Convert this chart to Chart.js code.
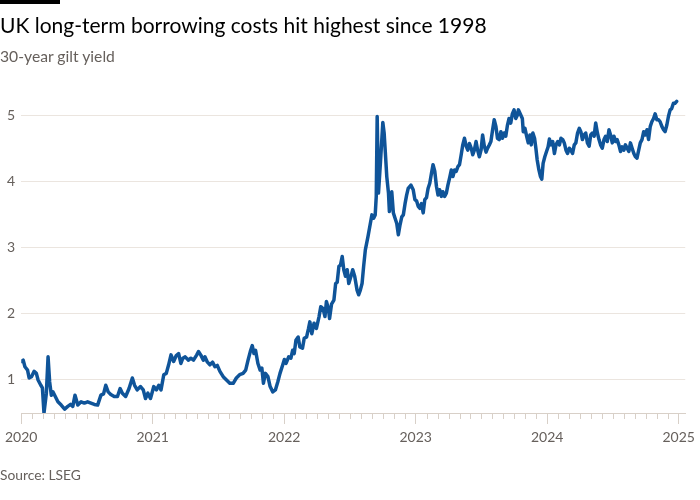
<!DOCTYPE html>
<html>
<head>
<meta charset="utf-8">
<script src="https://cdn.jsdelivr.net/npm/chart.js@4/dist/chart.umd.min.js"></script>
<style>
  html, body { margin: 0; padding: 0; background: #ffffff; }
  body { width: 700px; height: 500px; position: relative; overflow: hidden; font-family: Lato, "Noto Sans", sans-serif; }
  #bar { position: absolute; left: 0; top: 0; width: 60px; height: 4px; background: #000; }
  #title { position: absolute; left: 0; top: 12px; font-size: 21px; line-height: 26px; color: #000; white-space: nowrap; }
  #subtitle { position: absolute; left: 0; top: 46px; font-size: 15.7px; line-height: 20px; color: #66605c; white-space: nowrap; }
  #source { position: absolute; left: 0; top: 466px; font-size: 13.8px; line-height: 18px; color: #66605c; white-space: nowrap; }
  #c { position: absolute; left: 0; top: 0; }
</style>
</head>
<body>
<canvas id="c" width="700" height="500"></canvas>
<div id="bar"></div>
<div id="title">UK long-term borrowing costs hit highest since 1998</div>
<div id="subtitle">30-year gilt yield</div>
<div id="source">Source: LSEG</div>
<script>
// Decimal-year dates
const years = [
 2020.000,2020.015,2020.028,2020.048,2020.060,2020.078,2020.098,2020.115,2020.128,2020.149,
 2020.161,2020.173,2020.191,2020.204,2020.216,2020.229,2020.241,2020.259,2020.279,2020.304,
 2020.330,2020.354,2020.375,2020.392,2020.409,2020.430,2020.455,2020.480,2020.505,2020.530,
 2020.556,2020.581,2020.606,2020.626,2020.643,2020.661,2020.681,2020.707,2020.732,2020.752,
 2020.769,2020.794,2020.820,2020.845,2020.862,2020.882,2020.907,2020.928,2020.945,2020.963,
 2020.983,2021.008,2021.028,2021.046,2021.063,2021.084,2021.103,2021.121,2021.139,2021.159,
 2021.179,2021.197,2021.214,2021.229,2021.247,2021.272,2021.290,
 2021.310,2021.335,2021.348,2021.365,2021.385,2021.397,2021.416,2021.435,2021.455,2021.473,
 2021.491,2021.511,2021.536,2021.561,2021.586,2021.612,2021.636,2021.661,2021.687,2021.707,
 2021.725,2021.742,2021.757,2021.770,2021.782,2021.800,2021.817,2021.830,2021.842,2021.857,
 2021.876,2021.893,2021.913,2021.933,2021.951,2021.968,2021.989,2022.001,2022.014,2022.034,
 2022.051,2022.064,2022.076,2022.089,2022.106,2022.119,2022.139,2022.152,2022.170,2022.185,
 2022.195,2022.210,2022.227,2022.245,2022.265,2022.278,2022.295,2022.310,2022.321,2022.336,
 2022.345,2022.360,2022.378,2022.391,2022.403,2022.416,2022.428,2022.441,2022.453,2022.466,
 2022.479,2022.491,2022.509,2022.521,2022.536,2022.554,2022.566,2022.579,2022.592,2022.604,
 2022.617,2022.637,2022.655,2022.667,2022.680,2022.692,2022.700,2022.707,2022.717,2022.732,
 2022.750,2022.760,2022.768,2022.780,2022.793,2022.800,2022.818,2022.830,2022.843,2022.856,
 2022.868,2022.881,2022.894,2022.906,2022.919,2022.931,2022.943,2022.964,2022.981,2022.994,
 2023.007,2023.019,2023.032,2023.044,2023.057,2023.069,2023.082,2023.094,2023.107,2023.120,
 2023.132,2023.145,2023.158,2023.170,2023.182,2023.195,2023.207,2023.220,2023.233,2023.245,
 2023.258,2023.271,2023.283,2023.296,2023.308,2023.321,2023.333,2023.346,2023.358,2023.371,
 2023.384,2023.396,2023.409,2023.422,2023.434,2023.446,2023.459,2023.471,2023.484,2023.497,
 2023.509,2023.522,2023.535,2023.547,2023.560,2023.572,2023.585,2023.597,2023.610,2023.622,
 2023.635,2023.648,2023.660,2023.673,2023.685,2023.698,2023.710,2023.723,2023.735,2023.748,
 2023.761,2023.773,2023.781,2023.793,2023.811,2023.818,2023.831,2023.844,2023.856,2023.869,
 2023.879,2023.891,2023.904,2023.914,2023.924,2023.937,2023.949,2023.959,2023.969,2023.982,
 2023.995,2024.007,2024.017,2024.029,2024.042,2024.055,2024.067,2024.080,2024.093,2024.105,
 2024.118,2024.130,2024.143,2024.155,2024.168,2024.180,2024.193,2024.206,2024.218,2024.231,
 2024.244,2024.256,2024.268,2024.281,2024.293,2024.306,2024.319,2024.331,2024.344,2024.357,
 2024.369,2024.382,2024.394,2024.406,2024.419,2024.432,2024.444,2024.457,2024.470,2024.482,
 2024.495,2024.508,2024.520,2024.532,2024.545,2024.558,2024.570,2024.583,2024.595,2024.608,
 2024.621,2024.633,2024.646,2024.659,2024.671,2024.683,2024.696,2024.708,2024.721,2024.734,
 2024.746,2024.759,2024.771,2024.784,2024.796,2024.809,2024.821,2024.834,2024.847,2024.859,
 2024.872,2024.885,2024.897,2024.910,2024.922,2024.935,2024.947,2024.960,2024.972,2024.985
];
// 30-year gilt yield, %
const yields = [
 1.28,1.30,1.20,1.15,1.03,1.05,1.13,1.10,1.00,0.92,
 0.88,0.50,0.80,1.35,0.97,0.77,0.82,0.75,0.67,0.62,
 0.56,0.60,0.63,0.60,0.77,0.62,0.67,0.65,0.67,0.65,
 0.63,0.62,0.77,0.79,0.92,0.82,0.78,0.75,0.75,0.87,
 0.80,0.75,0.87,1.03,0.92,0.85,0.90,0.85,0.72,0.80,
 0.72,0.90,0.85,0.92,0.85,1.08,1.10,1.23,1.38,1.28,
 1.37,1.40,1.25,1.33,1.35,1.30,1.33,
 1.30,1.38,1.43,1.38,1.30,1.35,1.27,1.23,1.27,1.20,
 1.22,1.13,1.05,1.00,0.95,0.95,1.03,1.08,1.10,1.15,
 1.30,1.43,1.52,1.40,1.45,1.25,1.15,1.18,0.95,1.10,
 1.05,0.90,0.82,0.85,0.97,1.10,1.23,1.31,1.25,1.35,
 1.33,1.45,1.40,1.60,1.65,1.50,1.48,1.63,1.65,1.78,
 1.88,1.70,1.86,1.78,1.96,2.11,2.08,1.96,2.19,2.08,
 1.93,2.15,2.21,2.46,2.48,2.72,2.74,2.87,2.67,2.57,
 2.67,2.46,2.58,2.67,2.57,2.36,2.29,2.36,2.46,2.72,
 2.97,3.17,3.37,3.50,3.45,3.50,3.78,4.99,3.83,4.30,
 4.90,4.74,4.48,4.08,3.83,3.55,3.85,3.53,3.45,3.37,
 3.20,3.35,3.47,3.50,3.67,3.80,3.90,3.95,3.88,3.73,
 3.71,3.63,3.60,3.67,3.53,3.73,3.76,3.90,3.98,4.13,
 4.26,4.16,3.93,3.80,3.88,3.78,3.85,3.78,3.83,3.95,
 4.06,4.18,4.08,4.18,4.16,4.23,4.26,4.41,4.56,4.66,
 4.54,4.48,4.58,4.51,4.41,4.48,4.61,4.48,4.38,4.48,
 4.71,4.54,4.45,4.51,4.56,4.61,4.79,4.94,4.84,4.66,
 4.64,4.76,4.66,4.74,4.69,4.86,4.96,4.89,5.03,5.09,
 4.96,5.01,5.09,5.04,4.96,4.76,4.81,4.69,4.59,4.71,
 4.56,4.74,4.66,4.51,4.33,4.18,4.08,4.04,4.28,4.38,
 4.46,4.53,4.65,4.56,4.61,4.43,4.56,4.61,4.56,4.66,
 4.64,4.59,4.48,4.43,4.51,4.48,4.43,4.56,4.59,4.74,
 4.81,4.76,4.64,4.71,4.74,4.59,4.54,4.71,4.74,4.69,
 4.89,4.74,4.64,4.56,4.51,4.64,4.69,4.61,4.79,4.71,
 4.59,4.69,4.61,4.64,4.56,4.46,4.53,4.48,4.56,4.51,
 4.46,4.59,4.51,4.43,4.38,4.36,4.48,4.59,4.64,4.76,
 4.71,4.79,4.64,4.84,4.91,4.96,5.03,4.94,4.94,4.91,
 4.84,4.79,4.76,4.86,4.99,5.09,5.11,5.19,5.19,5.22
];
const yearTicks = [2020, 2021, 2022, 2023, 2024, 2025];
const yTicks = [1, 2, 3, 4, 5];

const points = years.map((x, i) => ({ x: x, y: yields[i] }));

const grey = '#66605c';
const axisCol = '#d8d0c8';

const minorTicks = {
  id: 'minorTicks',
  afterDraw(chart) {
    const xs = chart.scales.x;
    const ctx = chart.ctx;
    const bottom = chart.chartArea.bottom;
    ctx.save();
    ctx.strokeStyle = axisCol;
    ctx.lineWidth = 1;
    for (let y = 2020; y < 2025; y++) {
      for (let m = 1; m < 12; m++) {
        const px = Math.round(xs.getPixelForValue(y + m / 12)) + 0.5;
        ctx.beginPath();
        ctx.moveTo(px, bottom);
        ctx.lineTo(px, bottom + 6);
        ctx.stroke();
      }
    }
    ctx.restore();
  }
};

new Chart(document.getElementById('c'), {
  type: 'line',
  data: {
    datasets: [{
      data: points,
      borderColor: '#0f5499',
      borderWidth: 3.5,
      borderJoinStyle: 'round',
      borderCapStyle: 'round',
      pointRadius: 0,
      tension: 0,
      fill: false
    }]
  },
  options: {
    responsive: false,
    animation: false,
    devicePixelRatio: 1,
    layout: { padding: { top: 96, right: 12, left: 0, bottom: 0 } },
    plugins: { legend: { display: false }, tooltip: { enabled: false } },
    scales: {
      x: {
        type: 'linear',
        min: 2020,
        max: 2025.05,
        afterBuildTicks: (s) => { s.ticks = yearTicks.map(v => ({ value: v })); },
        afterFit: (s) => { s.height = 87; },
        grid: { display: true, drawOnChartArea: false, drawTicks: true, tickLength: 11, color: axisCol, tickColor: axisCol },
        border: { display: true, color: axisCol, width: 1 },
        ticks: {
          padding: 5,
          maxRotation: 0,
          autoSkip: false,
          color: grey,
          font: { family: 'Lato', size: 14 },
          callback: (v) => String(v)
        }
      },
      y: {
        type: 'linear',
        min: 0.5,
        max: 5.3,
        afterBuildTicks: (s) => { s.ticks = yTicks.map(v => ({ value: v })); },
        afterFit: (s) => { s.width = 18; },
        grid: { color: '#ebe5df', drawTicks: false, lineWidth: 1 },
        border: { display: false },
        ticks: {
          padding: 6,
          color: grey,
          font: { family: 'Lato', size: 14 },
          callback: (v) => String(v)
        }
      }
    }
  },
  plugins: [minorTicks]
});
</script>
</body>
</html>
